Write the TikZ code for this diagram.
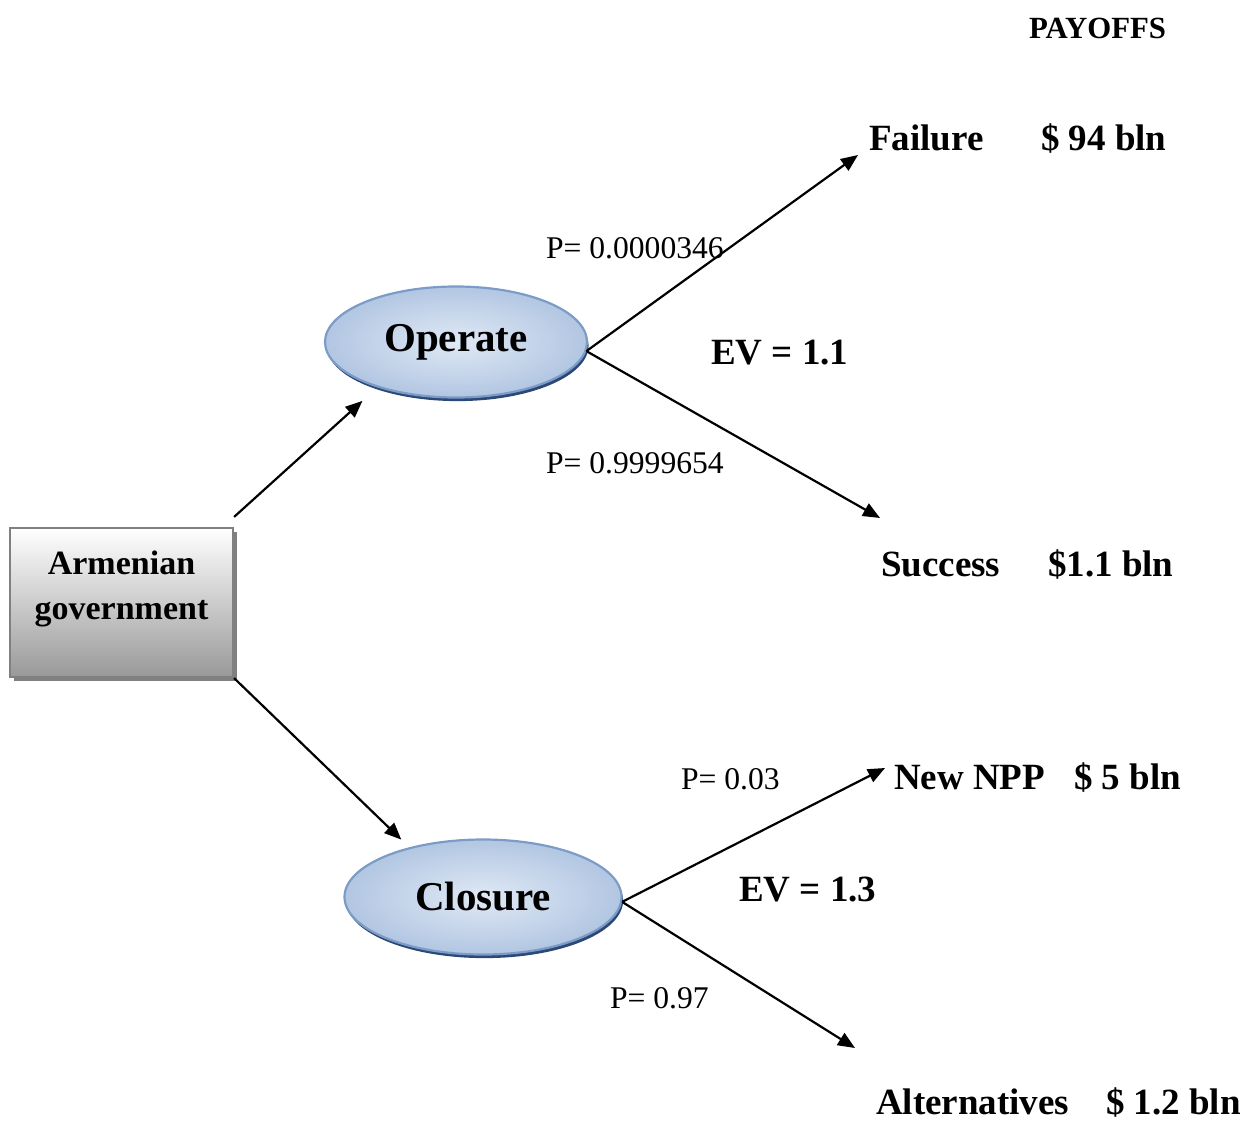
\documentclass[tikz,border=0pt]{standalone}
\usepackage{fontspec}
\setmainfont{Liberation Serif}
\usetikzlibrary{arrows.meta,shapes.geometric,shadows}

\definecolor{ovalrim}{RGB}{124,156,200}
\definecolor{ovallight}{RGB}{224,233,245}
\definecolor{ovaldark}{RGB}{178,198,226}
\definecolor{ovalshadow}{RGB}{44,72,118}
\definecolor{boxrim}{RGB}{128,128,128}

\begin{document}
\begin{tikzpicture}[x=0.5pt, y=-0.5pt, line width=1.1pt, >={Triangle[length=8.5pt,width=7pt]},
    decision/.style={rectangle, draw=boxrim, top color=white, bottom color=black!40,
        minimum width=111.5pt, minimum height=74.5pt,
        drop shadow={shadow xshift=2pt, shadow yshift=-2pt, fill=black!50, opacity=1}},
    deciname/.style={font=\fontsize{17}{22.5}\selectfont\bfseries, align=center, inner sep=0pt},
    option/.style={ellipse, draw=ovalrim, shading=radial, inner color=ovallight, outer color=ovaldark,
        inner sep=0pt, font=\fontsize{20.5}{24}\selectfont\bfseries,
        drop shadow={shadow xshift=0.8pt, shadow yshift=-1.8pt, fill=ovalshadow, opacity=1}},
    outcome/.style={font=\fontsize{18.5}{22}\selectfont\bfseries, anchor=base west, inner sep=0pt},
    prob/.style={font=\fontsize{15.8}{18}\selectfont, anchor=base west, inner sep=0pt}]
    \useasboundingbox (0,0) rectangle (1256,1120);

    % Nodes {gov, op, cl}
    \node [decision]            (gov) at (121.5,602.5)      {};
    \node [deciname]            (govname) at ([yshift=7pt]gov.center) {Armenian\\government};
    \node [option, minimum width=131pt, minimum height=55.5pt]   (op) at (456,342) {Operate};
    \node [option, minimum width=138.5pt, minimum height=57.5pt] (cl) at (483,897) {Closure};

    % Outcomes and payoffs
    \node [outcome, font=\fontsize{15.4}{18}\selectfont\bfseries] (payoffs) at (1028,38) {PAYOFFS};
    \node [outcome] (fail)    at (868,150)  {Failure};
    \node [outcome] (failpay) at (1040,150) {\$ 94 bln};
    \node [outcome] (succ)    at (880,576)  {Success};
    \node [outcome] (succpay) at (1047,576) {\$1.1 bln};
    \node [outcome] (npp)     at (893,789)  {New NPP};
    \node [outcome] (npppay)  at (1073,789) {\$ 5 bln};
    \node [outcome] (alt)     at (875,1114) {Alternatives};
    \node [outcome] (altpay)  at (1105,1114) {\$ 1.2 bln};

    % Probabilities and expected values
    \node [prob]    (pfail) at (545,258)  {P= 0.0000346};
    \node [prob]    (psucc) at (545,473)  {P= 0.9999654};
    \node [prob]    (pnpp)  at (680,789)  {P= 0.03};
    \node [prob]    (palt)  at (609,1008) {P= 0.97};
    \node [outcome] (evop)  at (710,364)  {EV = 1.1};
    \node [outcome] (evcl)  at (738,901)  {EV = 1.3};

    % Paths
    \path [->] ([yshift=5pt]gov.north east) edge [shorten >=10pt] (op.210);
    \path [->] (gov.south east) edge [shorten >=5.5pt] (cl.146);
    \path [->] (op.-4) edge ([xshift=-5pt,yshift=-2.5pt]fail.base west);
    \path [->] (op.-4) edge ([yshift=29pt]succ.base west);
    \path [->] (cl.-2) edge ([xshift=-4pt,yshift=10.5pt]npp.base west);
    \path [->] (cl.-2) edge ([xshift=-10pt,yshift=33pt]alt.base west);

\end{tikzpicture}
\end{document}
